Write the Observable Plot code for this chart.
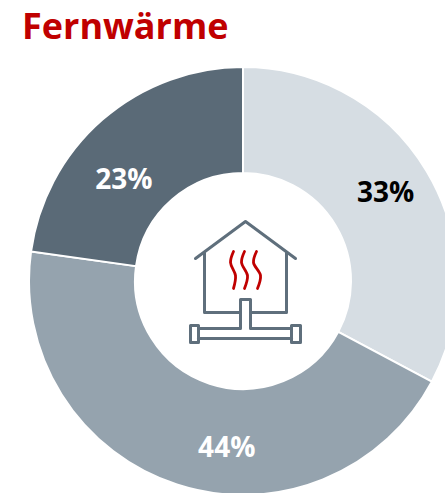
<!DOCTYPE html>
<html lang="de">
<head>
<meta charset="utf-8">
<script src="https://cdn.jsdelivr.net/npm/d3@7"></script>
<script src="https://cdn.jsdelivr.net/npm/@observablehq/plot@0.6"></script>
<style>
html,body{margin:0;padding:0;background:#fff;overflow:hidden}
#title{height:50px;box-sizing:border-box;padding:6px 0 0 22px;font:700 36px/40px "Open Sans",sans-serif;color:#c00000}
svg{display:block}
</style>
</head>
<body>
<div id="title">Fernwärme</div>
<div id="chart"></div>
<script>
const categories = ["A", "B", "C"];
const shares = [32.8, 44.4, 22.8];
const labels = ["33%", "44%", "23%"];
const colors = ["#d6dde3", "#95a3ae", "#5a6a77"];
const labelColors = ["#000000", "#ffffff", "#ffffff"];
const labelNudges = [{dx: 4, dy: -6}, {dx: 33, dy: 13}, {dx: -14, dy: 20}];

const centre = {x: 243, y: 281};
const inner = 108, outer = 214;

const slices = d3.pie().sort(null).value(d => d.share)(
  categories.map((c, i) => ({category: c, share: shares[i], color: colors[i], label: labels[i], ink: labelColors[i]}))
);
const arc = d3.arc().innerRadius(inner).outerRadius(outer);

const donut = (index, scales) => {
  const g = d3.create("svg:g")
    .attr("transform", `translate(${scales.x(centre.x)},${scales.y(centre.y)})`);
  g.selectAll("path").data(slices).join("path")
    .attr("d", arc)
    .attr("fill", d => d.data.color)
    .attr("stroke", "#fff")
    .attr("stroke-width", 2);
  return g.node();
};

const iconGrey = "#5f6f7c";
const iconRed = "#c00000";
const roof = [[195,258],[245,221],[295,258]];
const house = [[204,252],[204,312],[240,312],[240,299],[250,299],[250,312],[286,312],[286,252]];
const pipeLeft = [[240,312],[240,328],[198,328]];
const pipeRight = [[250,312],[250,328],[291,328]];
const pipeBottom = [[198,338],[291,338]];
const capLeft = [[190,325],[198,325],[198,342],[190,342],[190,325]];
const capRight = [[291,325],[300,325],[300,342],[291,342],[291,325]];
const waves = [
  [[233,251],[230,262],[235,275],[233,288]],
  [[244,251],[241,262],[247,275],[244,288]],
  [[256,251],[253,262],[260,275],[257,288]]
];
const greyParts = [roof, house, pipeLeft, pipeRight, pipeBottom, capLeft, capRight];

const chart = Plot.plot({
  width: 445,
  height: 443,
  margin: 0,
  x: {domain: [0, 445], range: [0, 445], axis: null},
  y: {domain: [50, 493], range: [0, 443], axis: null},
  marks: [
    donut,
    ...greyParts.map(p => Plot.line(p, {stroke: iconGrey, strokeWidth: 3, strokeLinejoin: "round", strokeLinecap: "round"})),
    ...waves.map(w => Plot.line(w, {stroke: iconRed, strokeWidth: 2.8, curve: "catmull-rom", strokeLinecap: "round"})),
    ...slices.map((s, i) => {
      const [cx, cy] = arc.centroid(s);
      return Plot.text([s.data.label], {
        x: () => centre.x + cx,
        y: () => centre.y + cy,
        text: d => d,
        fill: s.data.ink,
        fontFamily: "'Open Sans', sans-serif",
        fontWeight: 700,
        fontSize: 28,
        ...labelNudges[i]
      });
    })
  ]
});
document.getElementById("chart").append(chart);
</script>
</body>
</html>
